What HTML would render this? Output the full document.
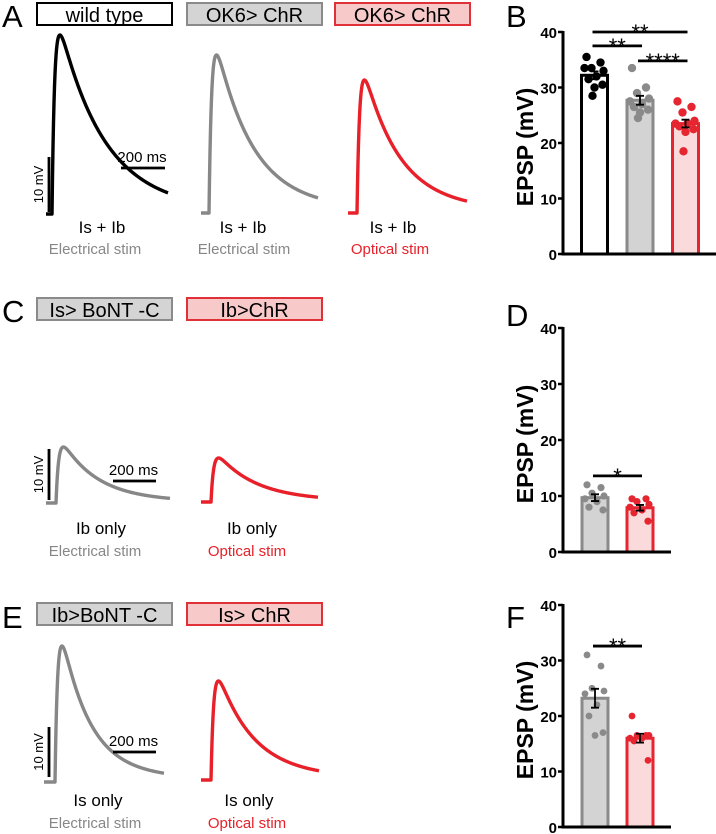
<!DOCTYPE html>
<html><head><meta charset="utf-8"><style>
html,body{margin:0;padding:0;background:#fff;}
svg{display:block;font-family:"Liberation Sans",sans-serif;}
</style></head><body>
<svg id="fig" width="716" height="834" viewBox="0 0 716 834"></svg>
<script>
// ===== Chart data =====
const tickLabels = [0, 10, 20, 30, 40];
// Panel B
const bCategories = ['wild type', 'OK6>ChR electrical', 'OK6>ChR optical'];
const bMeans = [32.2, 27.7, 23.5];
const bSems = [0.7, 0.8, 0.7];
const bPoints0 = [35.5, 34.5, 33.5, 33, 33.5, 32, 31.5, 30.5, 30, 28.5];
const bPoints1 = [33.5, 30, 29, 28, 27.5, 27, 26.5, 26, 25.5, 24.5];
const bPoints2 = [27.5, 26.5, 25.5, 24, 23.5, 23.5, 23, 22.5, 22, 18.5];
const bSig = [[0, 2, 40, '**'], [0, 1, 37.5, '**'], [1, 2, 34.8, '****']];
// Panel D
const dCategories = ['Is>BoNT-C electrical', 'Ib>ChR optical'];
const dMeans = [9.7, 7.9];
const dSems = [0.6, 0.5];
const dPoints0 = [12, 11.5, 10.5, 10, 9.5, 9, 8, 7.5];
const dPoints1 = [9.5, 9.5, 9, 8.5, 8, 7.5, 7, 5.5];
const dSig = [[0, 1, 13.6, '*']];
// Panel F
const fCategories = ['Ib>BoNT-C electrical', 'Is>ChR optical'];
const fMeans = [23.2, 16.0];
const fSems = [1.7, 0.8];
const fPoints0 = [31, 29, 25, 24.5, 24, 22, 20, 17, 16.5];
const fPoints1 = [20, 16.5, 16.5, 16.5, 16, 16, 15.5, 12];
const fSig = [[0, 1, 32.6, '**']];

const NS = 'http://www.w3.org/2000/svg';
const svg = document.getElementById('fig');
function mk(tag, attrs, parent, text) {
  const e = document.createElementNS(NS, tag);
  for (const k in attrs) e.setAttribute(k, attrs[k]);
  if (text !== undefined) e.textContent = text;
  (parent || svg).appendChild(e);
  return e;
}
const GRAY = '#878787', RED = '#e8202a';
const styles = [
  {fill: '#ffffff', stroke: '#000000', dot: '#000000'},
  {fill: '#d3d3d3', stroke: '#8a8a8a', dot: '#8a8a8a'},
  {fill: '#fadada', stroke: '#e52530', dot: '#e52530'}
];
const jit = [-8, 6, -3, 9, -10, 2, -6, 8, 0, -2, 5];

function barChart(name, cfg) {
  const g = mk('g', {}, svg);
  
  
  const y = v => cfg.y0 - (v / 40) * (cfg.y0 - cfg.y40);
  const x = i => cfg.x0 + i * cfg.step;
  cfg.means.forEach((m, i) => {
    const st = styles[cfg.styleIdx[i]];
    const r = mk('rect', {x: x(i) - 13, y: y(m), width: 26, height: cfg.y0 - y(m), fill: st.fill, stroke: st.stroke, 'stroke-width': 3}, g);
    
    
  });
  cfg.points.forEach((pts, i) => {
    const st = styles[cfg.styleIdx[i]];
    pts.forEach((v, j) => {
      const c = mk('circle', {cx: x(i) + jit[j % jit.length], cy: y(v), r: cfg.dotR, fill: st.dot}, g);
      
      
    });
  });
  cfg.means.forEach((m, i) => {
    const e = mk('path', {d: `M${x(i)} ${y(m - cfg.sems[i])}V${y(m + cfg.sems[i])}M${x(i) - 4} ${y(m - cfg.sems[i])}H${x(i) + 4}M${x(i) - 4} ${y(m + cfg.sems[i])}H${x(i) + 4}`, stroke: '#000', 'stroke-width': 1.8, fill: 'none'}, g);
    
    
  });
  const ax = mk('path', {d: `M${cfg.ax} ${cfg.y40 - 1}V${cfg.y0}H${cfg.axEnd}`, stroke: '#000', 'stroke-width': 3, fill: 'none'}, g);
  
  
  tickLabels.forEach(t => {
    mk('line', {x1: cfg.ax - 5, x2: cfg.ax, y1: y(t), y2: y(t), stroke: '#000', 'stroke-width': 2.5}, g);
    const tl = mk('text', {x: cfg.ax - 6, y: y(t) + 6, 'text-anchor': 'end', 'font-size': 15, 'font-weight': 'bold'}, g, t);
    
    
  });
  const yc = (cfg.y0 + cfg.y40) / 2 + 4;
  const tt = mk('text', {x: 0, y: 0, transform: `translate(533 ${yc}) rotate(-90)`, 'text-anchor': 'middle', 'font-size': 23, 'font-weight': 'bold'}, g, 'EPSP (mV)');
  
  
  cfg.sig.forEach(s => {
    const ln = mk('line', {x1: x(s[0]) - 2, x2: x(s[1]) + 2, y1: y(s[2]), y2: y(s[2]), stroke: '#000', 'stroke-width': 2.8}, g);
    
    
    const st = mk('text', {x: (x(s[0]) + x(s[1])) / 2, y: y(s[2]) + 8, 'text-anchor': 'middle', 'font-size': 22}, g, s[3]);
    
    
  });
}

barChart('chart-b', {x0: 594.5, step: 45.5, y0: 254, y40: 32, ax: 563, axEnd: 716, cats: bCategories, means: bMeans, sems: bSems, points: [bPoints0, bPoints1, bPoints2], styleIdx: [0, 1, 2], sig: bSig, dotR: 4.2});
barChart('chart-d', {x0: 595, step: 45, y0: 552, y40: 328, ax: 563, axEnd: 671, cats: dCategories, means: dMeans, sems: dSems, points: [dPoints0, dPoints1], styleIdx: [1, 2], sig: dSig, dotR: 3.6});
barChart('chart-f', {x0: 595, step: 45, y0: 827, y40: 605, ax: 563, axEnd: 671, cats: fCategories, means: fMeans, sems: fSems, points: [fPoints0, fPoints1], styleIdx: [1, 2], sig: fSig, dotR: 3.4});

// ===== Traces (difference-of-exponentials, rounded peak) =====
function trace(name, color, xs, base, xr, ytop, xe, tau) {
  const A = base - ytop;
  const tr = 2.6;
  const f = t => Math.exp(-t / tau) - Math.exp(-t / tr) + 0.06 * (Math.exp(-t / 150) - Math.exp(-t / tr));
  let mx = 0;
  for (let t = 0; t < 60; t += 0.1) mx = Math.max(mx, f(t));
  let d = `M${xs} ${base}H${xr}`;
  for (let xx = xr; xx <= xe; xx += 0.5) {
    d += `L${xx} ${(base - A * f(xx - xr) / mx).toFixed(2)}`;
  }
  const p = mk('path', {d, stroke: color, 'stroke-width': 3.4, fill: 'none', 'stroke-linejoin': 'round'});
  
  
}
trace('trace-a-wildtype', '#000', 46, 214, 52, 35, 168, 44);
trace('trace-a-ok6-electrical', GRAY, 201, 213, 209, 55, 318, 36);
trace('trace-a-ok6-optical', RED, 348, 213, 357, 80, 467, 35);
trace('trace-c-electrical', GRAY, 46, 503, 56, 447, 170, 35);
trace('trace-c-optical', RED, 201, 502, 211, 458, 318, 38);
trace('trace-e-electrical', GRAY, 44, 782, 55, 646, 164, 28);
trace('trace-e-optical', RED, 201, 780, 211, 681, 319, 35);

// ===== Labels / boxes =====
function txt(name, x, y, s, size, color, anchor, extra) {
  const t = mk('text', Object.assign({x, y, 'font-size': size, fill: color || '#000', 'text-anchor': anchor || 'middle'}, extra || {}), svg, s);
  
  
}
function box(name, x, y, label, kind) {
  const fill = kind === 'w' ? '#fff' : kind === 'g' ? '#d4d4d4' : '#f8c9c9';
  const stroke = kind === 'w' ? '#000' : kind === 'g' ? '#8a8a8a' : '#e03038';
  const r = mk('rect', {x, y, width: 135, height: 22, fill, stroke, 'stroke-width': 2});
  
  
  txt(name + '-label', x + 67.5, y + 19, label, 20);
}
txt('panel-label-a', 2, 27, 'A', 31, '#000', 'start');
txt('panel-label-b', 506, 27, 'B', 31, '#000', 'start');
txt('panel-label-c', 2, 322, 'C', 31, '#000', 'start');
txt('panel-label-d', 506, 326, 'D', 31, '#000', 'start');
txt('panel-label-e', 2, 628, 'E', 31, '#000', 'start');
txt('panel-label-f', 506, 628, 'F', 31, '#000', 'start');

box('genotype-box-wildtype', 37, 3, 'wild type', 'w');
box('genotype-box-ok6-gray', 187, 3, 'OK6> ChR', 'g');
box('genotype-box-ok6-red', 335, 3, 'OK6> ChR', 'r');
box('genotype-box-is-bont', 37, 298, 'Is> BoNT -C', 'g');
box('genotype-box-ib-chr', 187, 298, 'Ib>ChR', 'r');
box('genotype-box-ib-bont', 37, 603, 'Ib>BoNT -C', 'g');
box('genotype-box-is-chr', 187, 603, 'Is> ChR', 'r');

function scaleBar(prefix, vx, vy1, vy2, hx1, hx2, hy) {
  const p = mk('path', {d: `M${vx} ${vy1}V${vy2}M${hx1} ${hy}H${hx2}`, stroke: '#000', 'stroke-width': 2.8, fill: 'none'});
  
  
  txt(prefix + '-scale-mv', 0, 0, '10 mV', 13, '#000', 'middle', {transform: `translate(${vx - 6} ${(vy1 + vy2) / 2}) rotate(-90)`});
  txt(prefix + '-scale-ms', (hx1 + hx2) / 2 - 1, hy - 6, '200  ms', 15);
}
scaleBar('a', 49, 157, 212, 121, 165, 168);
scaleBar('c', 49, 449, 500, 113, 156, 481);
scaleBar('e', 49, 727, 777, 113, 156, 752);

txt('input-label-a1', 102, 233, 'Is +  Ib', 17);
txt('input-label-a2', 243, 233, 'Is +  Ib', 17);
txt('input-label-a3', 393, 233, 'Is +  Ib', 17);
txt('stim-label-a1', 95, 254, 'Electrical stim', 15, GRAY);
txt('stim-label-a2', 244, 254, 'Electrical stim', 15, GRAY);
txt('stim-label-a3', 390, 254, 'Optical stim', 15, RED);
txt('input-label-c1', 101, 534, 'Ib only', 17);
txt('input-label-c2', 252, 534, 'Ib only', 17);
txt('stim-label-c1', 95, 556, 'Electrical stim', 15, GRAY);
txt('stim-label-c2', 247, 556, 'Optical stim', 15, RED);
txt('input-label-e1', 98, 806, 'Is only', 17);
txt('input-label-e2', 249, 806, 'Is only', 17);
txt('stim-label-e1', 95, 828, 'Electrical stim', 15, GRAY);
txt('stim-label-e2', 247, 828, 'Optical stim', 15, RED);
</script>
</body></html>
